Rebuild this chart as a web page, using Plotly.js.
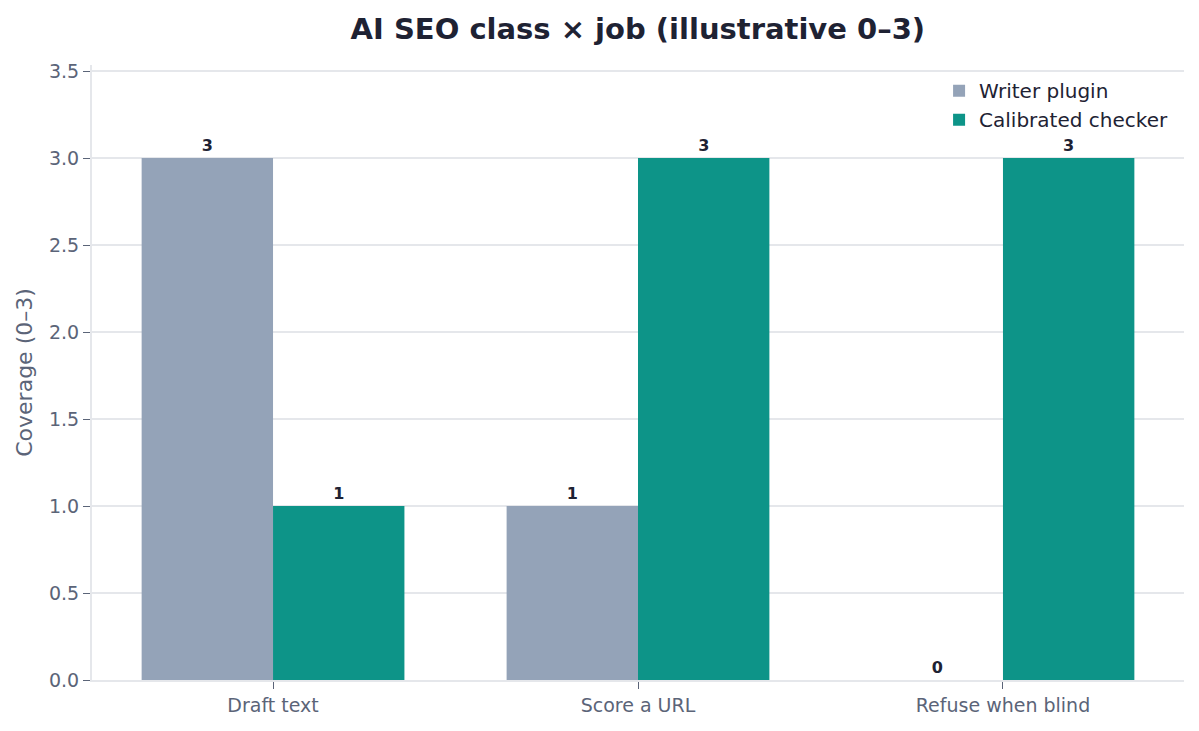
<!DOCTYPE html>
<html>
<head>
<meta charset="utf-8">
<script src="https://cdn.plot.ly/plotly-3.0.1.min.js"></script>
<style>
  html, body { margin: 0; padding: 0; background: #fff; }
  #chart { width: 1199px; height: 731px; }
</style>
</head>
<body>
<div id="chart"></div>
<script>
// jobs on the x axis, coverage score 0-3 per tool class
var jobs = ['Draft text', 'Score a URL', 'Refuse when blind'];
var writerPlugin = [3, 1, 0];
var calibratedChecker = [1, 3, 3];
var yTicks = [0, 0.5, 1, 1.5, 2, 2.5, 3, 3.5];

var labelFont = {family: 'DejaVu Sans', size: 16, color: '#1e2233', weight: 'bold'};

var writer = {
  type: 'bar',
  name: 'Writer plugin',
  x: jobs,
  y: writerPlugin,
  marker: {color: '#94a3b8'},
  text: writerPlugin.map(String),
  textposition: 'outside',
  textfont: labelFont,
  cliponaxis: false
};

var checker = {
  type: 'bar',
  name: 'Calibrated checker',
  x: jobs,
  y: calibratedChecker,
  marker: {color: '#0d9488'},
  text: calibratedChecker.map(String),
  textposition: 'outside',
  textfont: labelFont,
  cliponaxis: false
};

var layout = {
  width: 1199,
  height: 731,
  margin: {l: 92, r: 15, t: 65, b: 51},
  paper_bgcolor: '#fff',
  plot_bgcolor: '#fff',
  font: {family: 'DejaVu Sans', color: '#5b6478', size: 19},
  title: {
    text: '<b>AI SEO class × job (illustrative 0–3)</b>',
    x: 0.532, xanchor: 'center', y: 0.96, yanchor: 'middle',
    font: {size: 29, color: '#1e2233'}
  },
  barmode: 'group',
  bargap: 0.28,
  bargroupgap: 0,
  xaxis: {
    range: [-0.496, 2.496],
    showgrid: false,
    ticks: 'outside', ticklen: 7, tickcolor: '#5b6478',
    showline: true, linecolor: '#e5e7eb', linewidth: 2,
    tickfont: {size: 19, color: '#5b6478'}
  },
  yaxis: {
    range: [0, 3.535],
    tickvals: yTicks,
    ticktext: yTicks.map(function (v) { return v.toFixed(1); }),
    ticks: 'outside', ticklen: 7, tickcolor: '#5b6478',
    showline: true, linecolor: '#e5e7eb', linewidth: 2,
    showgrid: true, gridcolor: '#e5e7eb', gridwidth: 1.5,
    zeroline: false,
    tickfont: {size: 19, color: '#5b6478'},
    title: {text: 'Coverage (0–3)', font: {size: 22, color: '#5b6478'}, standoff: 10}
  },
  legend: {
    x: 0.99, xanchor: 'right', y: 0.99, yanchor: 'top',
    bgcolor: 'rgba(255,255,255,0)',
    font: {size: 20, color: '#1e2233'}
  },
  showlegend: true
};

Plotly.newPlot('chart', [writer, checker], layout, {displayModeBar: false});
</script>
</body>
</html>
